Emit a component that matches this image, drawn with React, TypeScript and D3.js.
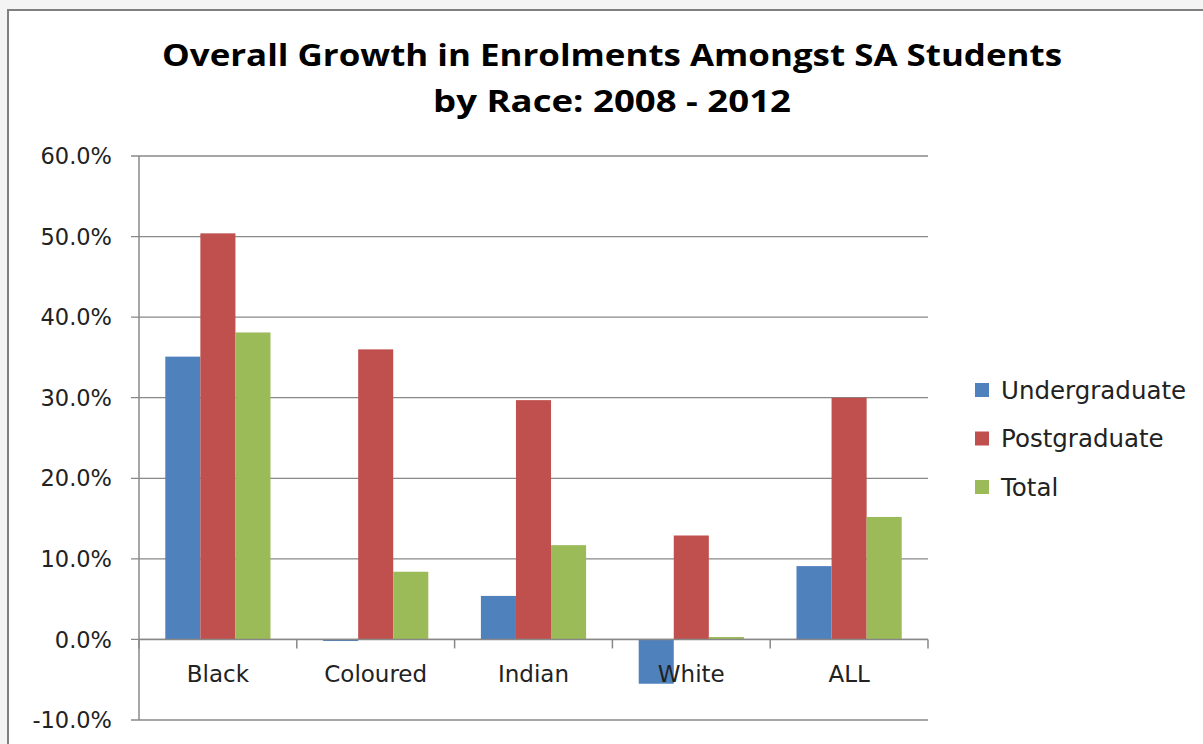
import React from "react";
import * as d3 from "d3";

const categories = ["Black", "Coloured", "Indian", "White", "ALL"];
const seriesNames = ["Undergraduate", "Postgraduate", "Total"];
const undergraduate = [35.1, -0.2, 5.4, -5.5, 9.1];
const postgraduate = [50.4, 36.0, 29.7, 12.9, 30.0];
const total = [38.1, 8.4, 11.7, 0.3, 15.2];
const yTicks = [-10, 0, 10, 20, 30, 40, 50, 60];
const colors = ["#4F81BD", "#C0504D", "#9BBB59"];
const titleLines = ["Overall Growth in Enrolments Amongst SA Students", "by Race: 2008 - 2012"];

const W = 1203;
const H = 744;

const fmtTick = (t: number) => d3.format(".1f")(t).replace("\u2212", "-") + "%";

export default function App() {
  const seriesValues = [undergraduate, postgraduate, total];
  const plot = { left: 139, right: 928, top: 156, bottom: 720 };
  const y = d3.scaleLinear().domain([-10, 60]).range([plot.bottom, plot.top]);
  const x = d3.scaleBand<string>().domain(categories).range([plot.left, plot.right]).paddingInner(0).paddingOuter(0);
  const xs = d3.scaleBand<string>().domain(seriesNames).range([0, x.bandwidth()]).paddingInner(0).paddingOuter(0.75);
  const zeroY = y(0);
  const gridColor = "#888888";
  const textColor = "#222222";
  const font = "'DejaVu Sans', Verdana, sans-serif";

  return (
    <svg width={W} height={H} style={{ position: "absolute", left: 0, top: 0 }} xmlns="http://www.w3.org/2000/svg">
      <rect x={0} y={0} width={W} height={H} fill="#f4f4f4" />
      <rect x={8} y={10} width={W + 20} height={H + 20} fill="#ffffff" stroke="#808080" strokeWidth={2} />

      {titleLines.map((t, i) => (
        <text
          key={t}
          x={612}
          y={i === 0 ? 66 : 112}
          textAnchor="middle"
          fontFamily="'Open Sans', 'Noto Sans', sans-serif"
          fontWeight="bold"
          fontSize={31}
          fill="#000"
          textLength={i === 0 ? 900 : 358}
          lengthAdjust="spacingAndGlyphs"
        >
          {t}
        </text>
      ))}

      {yTicks.map((t) => (
        <g key={t}>
          <line x1={plot.left - 8} x2={plot.right} y1={y(t)} y2={y(t)} stroke={gridColor} strokeWidth={1.3} />
          <text
            x={112}
            y={y(t)}
            dy="0.36em"
            textAnchor="end"
            fontFamily={font}
            fontSize={22.5}
            fill={textColor}
          >
            {fmtTick(t)}
          </text>
        </g>
      ))}
      <line x1={plot.left} x2={plot.left} y1={plot.top} y2={plot.bottom} stroke={gridColor} strokeWidth={1.5} />

      {categories.map((c, ci) => (
        <g key={c} transform={`translate(${x(c)},0)`}>
          {seriesNames.map((s, si) => {
            const v = seriesValues[si][ci];
            const y0 = y(Math.max(0, v));
            const y1 = y(Math.min(0, v));
            return (
              <rect
                key={s}
                x={xs(s)}
                y={y0}
                width={xs.bandwidth()}
                height={Math.max(1, y1 - y0)}
                fill={colors[si]}
              />
            );
          })}
        </g>
      ))}

      <line x1={plot.left} x2={plot.right} y1={zeroY} y2={zeroY} stroke={gridColor} strokeWidth={1.5} />
      {d3.range(categories.length + 1).map((i) => {
        const xx = plot.left + i * x.step();
        return <line key={i} x1={xx} x2={xx} y1={zeroY} y2={zeroY + 9} stroke={gridColor} strokeWidth={1.5} />;
      })}
      {categories.map((c) => (
        <text
          key={c}
          x={(x(c) as number) + x.bandwidth() / 2}
          y={682}
          textAnchor="middle"
          fontFamily={font}
          fontSize={23}
          fill={textColor}
        >
          {c}
        </text>
      ))}

      {seriesNames.map((s, i) => {
        const ly = 390 + i * 48.5;
        return (
          <g key={s}>
            <rect x={975} y={ly - 7} width={14} height={14} fill={colors[i]} />
            <text x={1001} y={ly} dy="0.36em" fontFamily={font} fontSize={24.5} fill={textColor}>
              {s}
            </text>
          </g>
        );
      })}
    </svg>
  );
}
